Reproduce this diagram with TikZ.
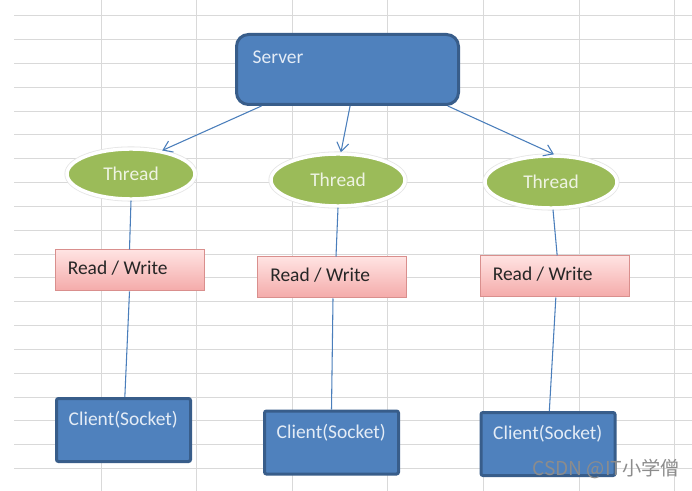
\documentclass[tikz,border=0pt]{standalone}
\usepackage{fontspec}
\setmainfont{Carlito}
\newfontfamily\cjkfont{Noto Sans CJK SC}
\usetikzlibrary{shapes.geometric,arrows.meta}
\definecolor{gridgray}{HTML}{D9D9D9}
\definecolor{boxfill}{HTML}{4F81BD}
\definecolor{boxedge}{HTML}{385D8A}
\definecolor{threadfill}{HTML}{9BBB59}
\definecolor{threadtext}{HTML}{EEF3E2}
\definecolor{rwtop}{HTML}{FFE3E2}
\definecolor{rwbottom}{HTML}{F4AAA9}
\definecolor{rwedge}{HTML}{D98F8D}
\definecolor{linkblue}{HTML}{4A7EBB}
\definecolor{labeltext}{HTML}{E4ECF6}

\tikzset{
    diagramfont/.style={font=\fontsize{14.6}{17}\selectfont},
    serverbox/.style={draw=boxedge, fill=boxfill, line width=2.25pt, rounded corners=9pt,
        minimum width=166.5pt, minimum height=52.5pt, inner sep=0pt},
    clientbox/.style={draw=boxedge, fill=boxfill, line width=2.25pt, rounded corners=1.5pt,
        minimum width=100.5pt, minimum height=47.25pt, inner sep=0pt},
    rwbox/.style={draw=rwedge, top color=rwtop, bottom color=rwbottom, line width=0.75pt,
        minimum width=111.75pt, minimum height=30.75pt, inner sep=0pt},
    threadnode/.style={ellipse, fill=threadfill, draw=white, line width=2.6pt,
        preaction={draw=black!10, line width=3.8pt},
        text=threadtext, diagramfont, inner sep=0pt},
    boxlabel/.style={diagramfont, text=labeltext, inner sep=0pt, anchor=base west},
    rwlabel/.style={diagramfont, text=black!85, inner sep=0pt, anchor=base west},
    link/.style={draw=linkblue, line width=0.8pt},
    arrowlink/.style={link, -{Straight Barb[length=6.5pt, width=9pt, line width=0.8pt]}}
}

\begin{document}
\begin{tikzpicture}[x=0.75pt, y=-0.75pt]
    \useasboundingbox (0,0) rectangle (692,491);
    \fill[white] (0,0) rectangle (692,491);
    \foreach \k in {0,...,19} {
        \draw[gridgray, line width=0.75pt] (14,15.7+\k*23.84) -- (692,15.7+\k*23.84);
    }
    \foreach \k in {0,...,6} {
        \draw[gridgray, line width=0.75pt] (101+\k*95.6,0) -- (101+\k*95.6,491);
    }

    \node[serverbox, label={[boxlabel, xshift=13.1pt, yshift=-22.6pt]north west:Server}] (server) at (347.5,69.5) {};

    \node[threadnode, minimum width=96pt, minimum height=37.5pt] (thread1) at (131,174) {Thread};
    \node[threadnode, minimum width=100.5pt, minimum height=39pt] (thread2) at (338,180) {Thread};
    \node[threadnode, minimum width=99pt, minimum height=39pt] (thread3) at (551,182) {Thread};

    \node[rwbox, label={[rwlabel, xshift=9.75pt, yshift=-3.2pt]west:Read / Write}] (rw1) at (129.5,270.5) {};
    \node[rwbox, label={[rwlabel, xshift=9.75pt, yshift=-3.2pt]west:Read / Write}] (rw2) at (332,277.5) {};
    \node[rwbox, label={[rwlabel, xshift=9.75pt, yshift=-3.2pt]west:Read / Write}] (rw3) at (554.5,276.5) {};

    \node[clientbox, label={[boxlabel, xshift=10.1pt, yshift=-21.5pt]north west:Client(Socket)}] (client1) at (123.5,430) {};
    \node[clientbox, label={[boxlabel, xshift=10.1pt, yshift=-21.5pt]north west:Client(Socket)}] (client2) at (331.5,442.5) {};
    \node[clientbox, label={[boxlabel, xshift=10.1pt, yshift=-21.5pt]north west:Client(Socket)}] (client3) at (548,444) {};

    \draw[arrowlink] (server.203) -- (thread1.37);
    \draw[arrowlink] (server.274) -- (thread2.84);
    \draw[arrowlink] (server.340.6) -- (thread3.84);

    \draw[link] (thread1.south) -- (rw1.north);
    \draw[link] (thread2.south) -- ([xshift=3pt]rw2.north);
    \draw[link] ([xshift=1.5pt]thread3.south) -- ([xshift=2pt]rw3.north);

    \draw[link] (rw1.south) -- ([xshift=1pt]client1.north);
    \draw[link] ([xshift=0.75pt]rw2.south) -- (client2.north);
    \draw[link] ([xshift=1pt]rw3.south) -- ([xshift=1pt]client3.north);

    \node[anchor=base west, inner sep=0pt, text=black!45, font=\cjkfont\fontsize{14.4}{16}\selectfont] (mark) at (532,475) {CSDN @IT小学僧};
\end{tikzpicture}
\end{document}
